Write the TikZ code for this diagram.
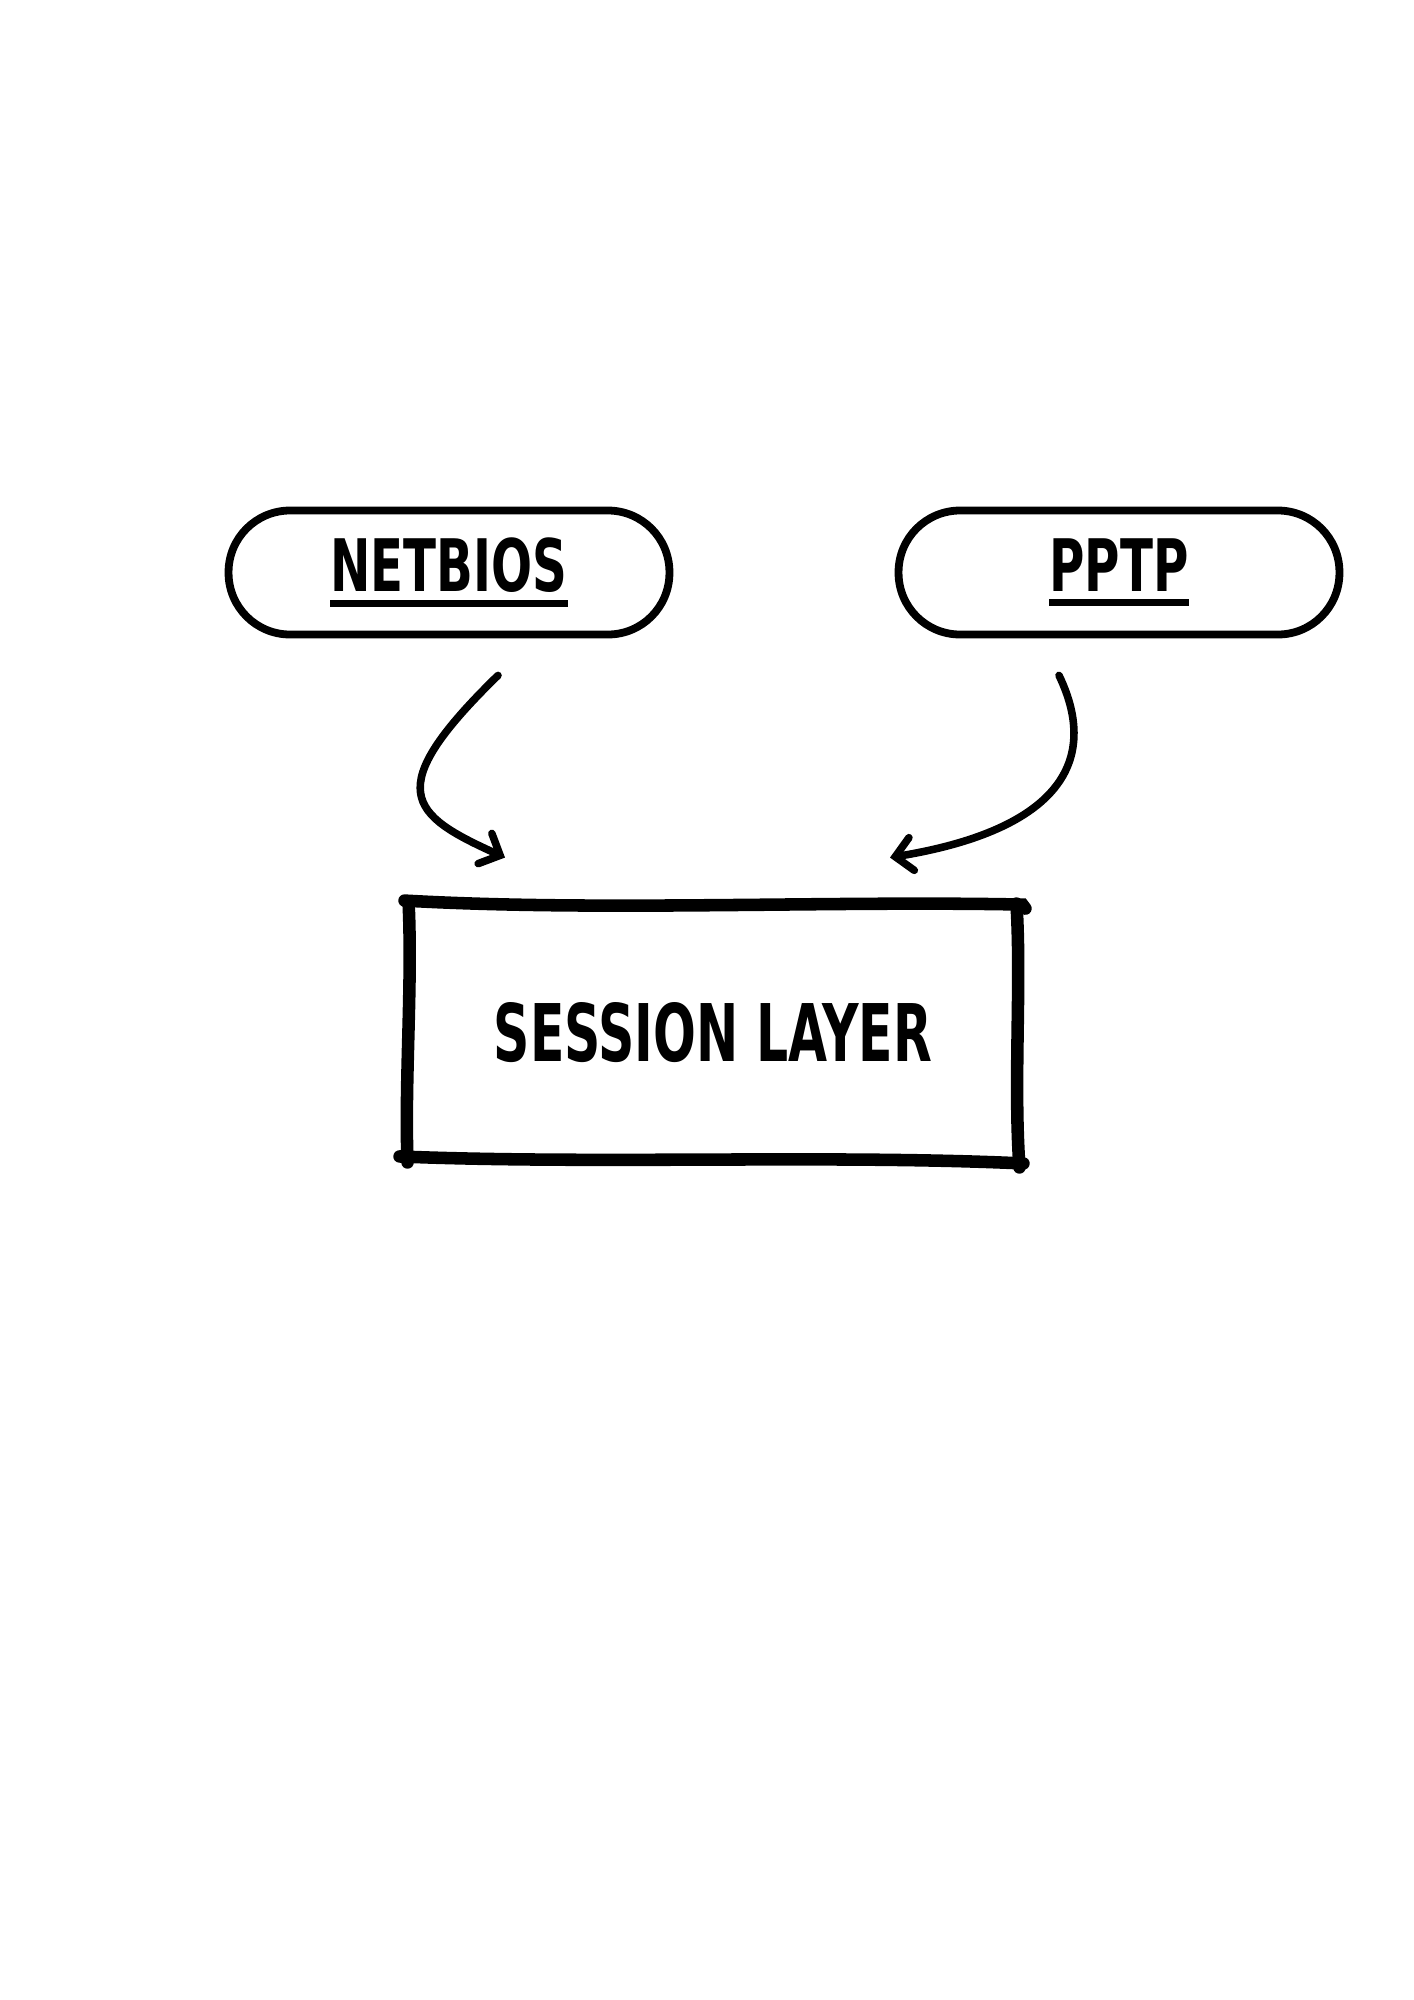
\documentclass[tikz,border=0pt]{standalone}
\usepackage{fontspec}
\usepackage{tikz}
\usetikzlibrary{arrows.meta, positioning, calc}
\newfontfamily\labelfont[FakeStretch=0.667]{DejaVu Sans}
\newfontfamily\layerfont[FakeStretch=0.634]{DejaVu Sans}
% underlined label
\newcommand\ulbl[1]{\setbox0\hbox{#1}\vbox{\copy0\kern3pt\hrule height 3pt}}

\begin{document}
\begin{tikzpicture}[
        x=0.42255pt, y=-0.42255pt,
        pill/.style={draw, line width=3.3pt, rounded corners=26pt,
                     minimum width=186.3pt, minimum height=52.4pt,
                     font=\labelfont\bfseries\fontsize{30.6}{36}\selectfont},
        layerbox/.style={minimum width=256.9pt, minimum height=107.3pt,
                     font=\layerfont\bfseries\fontsize{33.6}{40}\selectfont},
        sketch/.style={line width=5.3pt, line cap=round},
        arr/.style={-{Straight Barb[length=7pt,width=14pt,line cap=round]},
                    line width=3.2pt, line cap=round}
      ]
        \useasboundingbox (0,0) rectangle (1414,2000);
        \node[pill] (netbios) at (449,572.5) {\ulbl{NETBIOS}};
        \node[pill] (pptp) at (1119,572.5) {\ulbl{PPTP}};
        \node[layerbox] (layer) at (713,1033) {SESSION LAYER};
        % hand drawn border
        \draw[sketch] ([shift={(-4,-5)}]layer.north west)
            .. controls ([shift={(190,6)}]layer.north west) and ([shift={(-190,-5)}]layer.north east)
            .. ([shift={(5,-1)}]layer.north east) -- ([shift={(8,3)}]layer.north east);
        \draw[sketch] ([shift={(-1,-2)}]layer.north east)
            .. controls ([shift={(4,80)}]layer.north east) and ([shift={(-4,-80)}]layer.south east)
            .. ([shift={(2,7)}]layer.south east);
        \draw[sketch] ([shift={(6,3)}]layer.south east)
            .. controls ([shift={(-190,-6)}]layer.south east) and ([shift={(190,4)}]layer.south west)
            .. ([shift={(-9,-4)}]layer.south west);
        \draw[sketch] ([shift={(-1,2)}]layer.south west)
            .. controls ([shift={(-4,-80)}]layer.south west) and ([shift={(4,80)}]layer.north west)
            .. ([shift={(0,-4)}]layer.north west);
        % arrows
        \draw[arr] ([shift={(49,37)}]netbios.south)
            .. controls ([shift={(-69,152)}]netbios.south) and ([shift={(-303,-91)}]layer.north)
            .. ([shift={(-208,-48)}]layer.north);
        \draw[arr] ([shift={(-60,37)}]pptp.south)
            .. controls ([shift={(-19,122)}]pptp.south) and ([shift={(347,-76)}]layer.north)
            .. ([shift={(177,-48)}]layer.north);
      \end{tikzpicture}
\end{document}
